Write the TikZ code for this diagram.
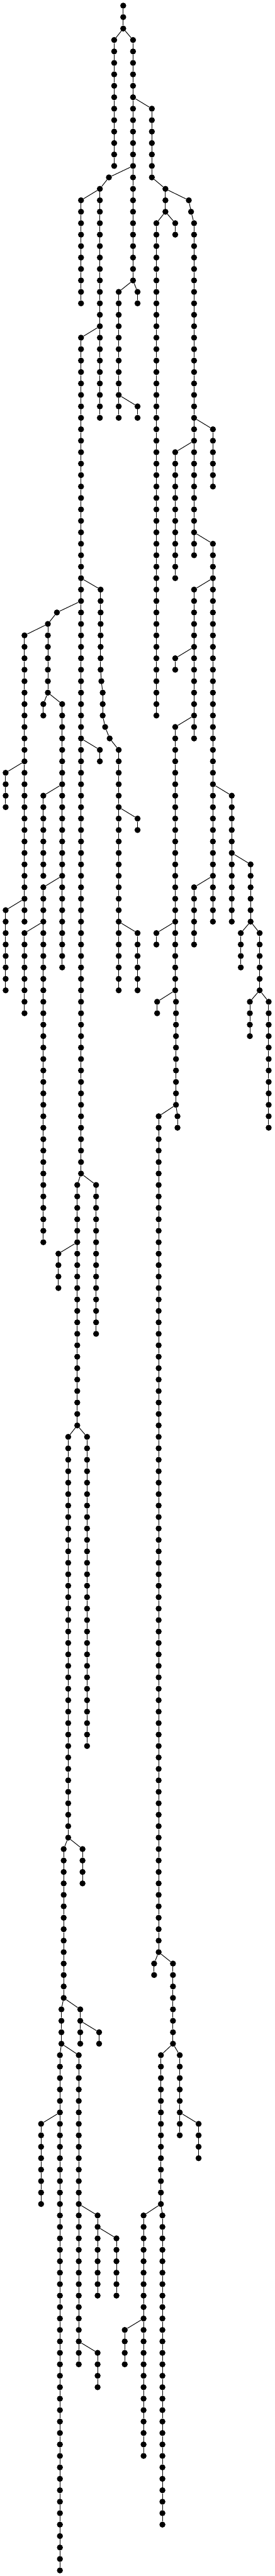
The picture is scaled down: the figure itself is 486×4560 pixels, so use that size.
\documentclass[tikz,border=0pt]{standalone}
\begin{document}
\begin{tikzpicture}[
  dot/.style={circle,fill=black,draw=none,inner sep=0pt,minimum size=10.6pt},
  edge/.style={line width=1.1pt,black}]
\useasboundingbox (0pt,0pt) rectangle (486pt,-4560pt);
\newcommand\dotchain[4]{%
  \foreach \l [count=\i] in {#3,...,#4} {
    \node[dot] (#1-\l) at (#2,\l) {};
    \ifnum\i>1
      \pgfmathtruncatemacro\prv{\l-1}
      \draw[edge] (#1-\prv) -- (#1-\l);
    \fi
  }%
}
\begin{scope}[x={(0.33333pt,0pt)},y={(0pt,-20.268pt)},shift={(0pt,-10pt)}]
\dotchain{c1}{654}{0}{2}
\dotchain{c2}{606}{3}{14}
\dotchain{c3}{706}{3}{24}
\dotchain{c4}{806}{9}{15}
\dotchain{c5}{578}{15}{15}
\dotchain{c6}{530}{16}{36}
\dotchain{c7}{430}{17}{26}
\dotchain{c8}{878}{16}{18}
\dotchain{c9}{1002}{17}{17}
\dotchain{c10}{1014}{18}{18}
\dotchain{c11}{1030}{19}{48}
\dotchain{c12}{830}{19}{62}
\dotchain{c13}{930}{19}{20}
\dotchain{c14}{630}{25}{36}
\dotchain{c15}{730}{25}{26}
\dotchain{c16}{730}{35}{36}
\dotchain{c17}{430}{29}{102}
\dotchain{c18}{1130}{37}{42}
\dotchain{c19}{930}{39}{50}
\dotchain{c20}{1130}{47}{80}
\dotchain{c21}{534}{51}{58}
\foreach \x/\l in {538/59,545/60,545/61,545/62,558/63,582/64}{\node[dot] (c21-\l) at (\x,\l) {};}
\dotchain{c21}{630}{65}{86}
\dotchain{c22}{302}{53}{53}
\dotchain{c23}{254}{54}{60}
\dotchain{c24}{130}{55}{80}
\dotchain{c25}{30}{67}{70}
\dotchain{c26}{30}{79}{86}
\dotchain{c27}{230}{61}{62}
\dotchain{c28}{330}{61}{84}
\dotchain{c29}{230}{69}{76}
\dotchain{c30}{230}{77}{108}
\dotchain{c31}{130}{81}{88}
\dotchain{c32}{530}{65}{66}
\dotchain{c33}{730}{71}{72}
\dotchain{c34}{730}{81}{86}
\dotchain{c35}{1030}{51}{64}
\dotchain{c36}{930}{57}{58}
\dotchain{c37}{930}{63}{86}
\dotchain{c37}{934}{87}{96}
\dotchain{c38}{830}{81}{82}
\dotchain{c39}{834}{87}{88}
\dotchain{c40}{1230}{69}{80}
\dotchain{c41}{1030}{77}{82}
\dotchain{c42}{1330}{75}{80}
\dotchain{c43}{1278}{81}{84}
\dotchain{c44}{1378}{81}{86}
\dotchain{c45}{1326}{87}{90}
\dotchain{c46}{1426}{87}{98}
\dotchain{c47}{410}{103}{124}
\dotchain{c48}{510}{103}{116}
\dotchain{c49}{310}{109}{112}
\dotchain{c50}{942}{97}{98}
\dotchain{c51}{842}{97}{170}
\dotchain{c52}{362}{125}{160}
\dotchain{c53}{462}{125}{152}
\dotchain{c54}{438}{161}{164}
\dotchain{c55}{338}{161}{174}
\dotchain{c56}{426}{175}{178}
\dotchain{c57}{526}{177}{178}
\dotchain{c58}{326}{175}{178}
\dotchain{c59}{318}{179}{224}
\dotchain{c60}{218}{185}{192}
\dotchain{c61}{418}{179}{206}
\dotchain{c62}{518}{193}{200}
\dotchain{c63}{618}{195}{200}
\dotchain{c64}{518}{205}{208}
\dotchain{c65}{818}{171}{172}
\dotchain{c66}{918}{171}{178}
\dotchain{c67}{854}{179}{192}
\dotchain{c68}{954}{179}{186}
\dotchain{c69}{1054}{185}{188}
\dotchain{c70}{762}{193}{214}
\dotchain{c71}{662}{203}{206}
\dotchain{c72}{862}{193}{220}
% branch connectors
\draw[edge] (c1-2) -- (c2-3);
\draw[edge] (c1-2) -- (c3-3);
\draw[edge] (c3-8) -- (c4-9);
\draw[edge] (c3-14) -- (c5-15);
\draw[edge] (c5-15) -- (c6-16);
\draw[edge] (c6-16) -- (c7-17);
\draw[edge] (c4-15) -- (c8-16);
\draw[edge] (c8-16) -- (c9-17);
\draw[edge] (c9-17) -- (c10-18);
\draw[edge] (c10-18) -- (c11-19);
\draw[edge] (c8-18) -- (c12-19);
\draw[edge] (c8-18) -- (c13-19);
\draw[edge] (c3-24) -- (c14-25);
\draw[edge] (c3-24) -- (c15-25);
\draw[edge] (c14-34) -- (c16-35);
\draw[edge] (c6-28) -- (c17-29);
\draw[edge] (c11-36) -- (c18-37);
\draw[edge] (c11-38) -- (c19-39);
\draw[edge] (c11-46) -- (c20-47);
\draw[edge] (c17-50) -- (c21-51);
\draw[edge] (c21-58) -- (c21-59);
\draw[edge] (c21-59) -- (c21-60);
\draw[edge] (c21-60) -- (c21-61);
\draw[edge] (c21-61) -- (c21-62);
\draw[edge] (c21-62) -- (c21-63);
\draw[edge] (c21-63) -- (c21-64);
\draw[edge] (c21-64) -- (c21-65);
\draw[edge] (c17-52) -- (c22-53);
\draw[edge] (c22-53) -- (c23-54);
\draw[edge] (c23-54) -- (c24-55);
\draw[edge] (c24-66) -- (c25-67);
\draw[edge] (c24-78) -- (c26-79);
\draw[edge] (c23-60) -- (c27-61);
\draw[edge] (c23-60) -- (c28-61);
\draw[edge] (c28-68) -- (c29-69);
\draw[edge] (c28-76) -- (c30-77);
\draw[edge] (c30-80) -- (c31-81);
\draw[edge] (c17-64) -- (c32-65);
\draw[edge] (c21-70) -- (c33-71);
\draw[edge] (c21-80) -- (c34-81);
\draw[edge] (c20-50) -- (c35-51);
\draw[edge] (c35-56) -- (c36-57);
\draw[edge] (c35-62) -- (c37-63);
\draw[edge] (c37-80) -- (c38-81);
\draw[edge] (c37-86) -- (c39-87);
\draw[edge] (c37-86) -- (c37-87);
\draw[edge] (c20-68) -- (c40-69);
\draw[edge] (c20-76) -- (c41-77);
\draw[edge] (c40-74) -- (c42-75);
\draw[edge] (c42-80) -- (c43-81);
\draw[edge] (c42-80) -- (c44-81);
\draw[edge] (c44-86) -- (c45-87);
\draw[edge] (c44-86) -- (c46-87);
\draw[edge] (c17-102) -- (c47-103);
\draw[edge] (c17-102) -- (c48-103);
\draw[edge] (c47-108) -- (c49-109);
\draw[edge] (c37-96) -- (c50-97);
\draw[edge] (c37-96) -- (c51-97);
\draw[edge] (c47-124) -- (c52-125);
\draw[edge] (c47-124) -- (c53-125);
\draw[edge] (c52-160) -- (c54-161);
\draw[edge] (c52-160) -- (c55-161);
\draw[edge] (c55-174) -- (c56-175);
\draw[edge] (c55-174) -- (c58-175);
\draw[edge] (c56-176) -- (c57-177);
\draw[edge] (c58-178) -- (c59-179);
\draw[edge] (c58-178) -- (c61-179);
\draw[edge] (c59-184) -- (c60-185);
\draw[edge] (c61-192) -- (c62-193);
\draw[edge] (c62-194) -- (c63-195);
\draw[edge] (c61-204) -- (c64-205);
\draw[edge] (c51-170) -- (c65-171);
\draw[edge] (c51-170) -- (c66-171);
\draw[edge] (c66-178) -- (c67-179);
\draw[edge] (c66-178) -- (c68-179);
\draw[edge] (c68-184) -- (c69-185);
\draw[edge] (c67-192) -- (c70-193);
\draw[edge] (c67-192) -- (c72-193);
\draw[edge] (c70-202) -- (c71-203);
\end{scope}
\end{tikzpicture}
\end{document}
